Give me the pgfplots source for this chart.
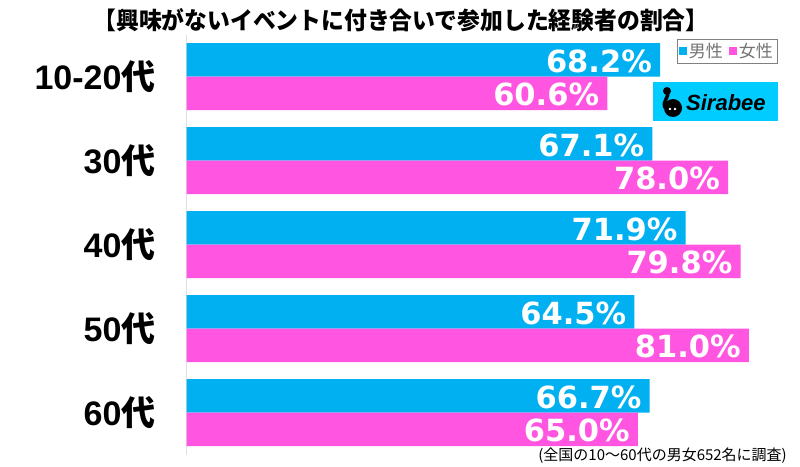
\documentclass[border=0pt]{standalone}
\usepackage{pgfplots}
\pgfplotsset{compat=1.18}
\usepackage{fontspec}
\setmainfont{Noto Sans CJK JP}
\newfontfamily\arialb{Liberation Sans}
\newfontfamily\dejab{DejaVu Sans}
\definecolor{mblue}{RGB}{0,176,240}
\definecolor{fpink}{RGB}{255,85,225}
\definecolor{sira}{RGB}{0,204,255}
\newcommand{\cat}[1]{{\arialb\bfseries #1}{\bfseries 代}}
\begin{document}
\begin{tikzpicture}[x=1pt,y=1pt]
\path[use as bounding box] (0,0) rectangle (800,466);
\begin{axis}[
  at={(186.7pt,11.3pt)}, anchor=south west,
  scale only axis, width=613.3pt, height=420pt,
  xbar, bar width=33.5pt,
  xmin=0, xmax=88.37, ymin=-0.5, ymax=4.5,
  axis x line=none, axis y line*=left,
  y axis line style={draw=gray!25, line width=1pt},
  ytick={0,1,2,3,4}, yticklabels={\cat{60},\cat{50},\cat{40},\cat{30},\cat{10-20}},
  major tick length=0pt,
  yticklabel style={font=\fontsize{34}{34}\selectfont, inner sep=0pt, xshift=-31pt},
  nodes near coords={\pgfmathprintnumber[fixed,fixed zerofill,precision=1,assume math mode=true]{\pgfplotspointmeta}\%},
  every node near coord/.append style={anchor=east, inner sep=0pt, xshift=-8pt, yshift=-1pt, text=white, font=\fontsize{30.5}{30}\selectfont\dejab\bfseries},
  legend style={at={(rel axis cs:0.963,0.99)}, anchor=north east, draw=gray, line width=0.8pt, text=gray!90!black, font=\fontsize{17}{17}\selectfont, inner sep=2pt, /tikz/every even column/.append style={column sep=4pt}},
  legend columns=2,
  legend image code/.code={\fill[#1] (1pt,-4pt) rectangle (9pt,4pt);},
]
\addplot[fill=mblue, draw=none, bar shift=16.75pt] coordinates {(66.7,0) (64.5,1) (71.9,2) (67.1,3) (68.2,4)};
\addplot[fill=fpink, draw=none, bar shift=-16.75pt] coordinates {(65.0,0) (81.0,1) (79.8,2) (78.0,3) (60.6,4)};
\legend{男性,女性}
\end{axis}
\node[font=\fontsize{24}{24}\selectfont\bfseries, xscale=0.95] at (401,446) {【興味がないイベントに付き合いで参加した経験者の割合】};
\node[anchor=east, font=\fontsize{15}{15}\selectfont, inner sep=0pt] at (787,10) {(全国の10～60代の男女652名に調査)};
\fill[sira] (653,345) rectangle (778,384);
\node[anchor=west, font=\fontsize{22}{22}\selectfont\arialb\bfseries\itshape, inner sep=0pt] at (686,363) {Sirabee};
\fill (673,358) circle (9);
\fill (667,375) circle (4);
\draw[line width=3.5pt] (667,375) .. controls (670,368) and (662,366) .. (665,358);
\fill[white] (670,357) circle (1.3);
\fill[white] (675,357) circle (1.3);
\end{tikzpicture}
\end{document}
